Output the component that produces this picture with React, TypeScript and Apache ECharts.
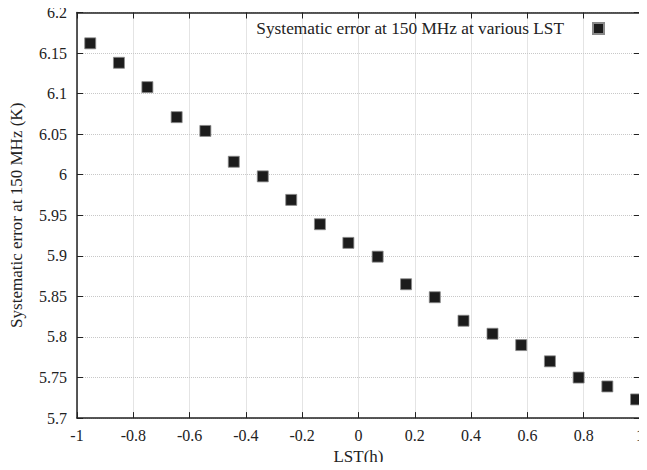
import React, { useEffect, useRef } from "react";
import * as echarts from "echarts";

const lstHours = [
  -0.953, -0.851, -0.75, -0.646, -0.544, -0.443, -0.34, -0.239, -0.137, -0.036,
  0.068, 0.169, 0.271, 0.373, 0.476, 0.578, 0.68, 0.782, 0.884, 0.986,
];
const errorK = [
  6.162, 6.138, 6.108, 6.071, 6.054, 6.016, 5.998, 5.969, 5.939, 5.916,
  5.899, 5.865, 5.849, 5.82, 5.804, 5.79, 5.77, 5.75, 5.739, 5.723,
];
const seriesName = "Systematic error at 150 MHz at various LST";

const FONT = "Liberation Serif";

export default function App() {
  const ref = useRef<HTMLDivElement>(null);
  useEffect(() => {
    if (!ref.current) return;
    const chart = echarts.init(ref.current, undefined, { renderer: "svg" });
    const axisLine = { show: true, onZero: false, lineStyle: { color: "#222", width: 1.5 } };
    const tick = { show: true, inside: true, length: 6, lineStyle: { color: "#222", width: 1 } };
    const split = { show: true, lineStyle: { color: "#c8c8c8", type: "dotted", width: 1 } };
    const label = { color: "#222", fontFamily: FONT, fontSize: 16 };
    chart.setOption({
      animation: false,
      backgroundColor: "#fff",
      textStyle: { fontFamily: FONT },
      grid: { left: 76, top: 12.5, right: 4.3, bottom: 48.3, containLabel: false },
      legend: {
        show: true,
        right: 37,
        top: 15,
        align: "right",
        itemWidth: 11,
        itemHeight: 11,
        textStyle: { color: "#222", fontFamily: FONT, fontSize: 17.3, padding: [0, 24, 0, 0] },
        data: [{ name: seriesName, icon: "rect" }],
      },
      xAxis: [
        {
          type: "value",
          min: -1,
          max: 1,
          interval: 0.2,
          name: "LST(h)",
          nameLocation: "middle",
          nameGap: 26,
          nameTextStyle: { color: "#222", fontFamily: FONT, fontSize: 17 },
          axisLine,
          axisTick: tick,
          axisLabel: { ...label, margin: 9, formatter: (v: number) => String(+v.toFixed(1)) },
          splitLine: split,
        },
        {
          type: "value",
          position: "top",
          min: -1,
          max: 1,
          interval: 0.2,
          axisLine,
          axisTick: tick,
          axisLabel: { show: false },
          splitLine: { show: false },
        },
      ],
      yAxis: [
        {
          type: "value",
          min: 5.7,
          max: 6.2,
          interval: 0.05,
          name: "Systematic error at 150 MHz (K)",
          nameLocation: "middle",
          nameGap: 52,
          nameTextStyle: { color: "#222", fontFamily: FONT, fontSize: 17 },
          axisLine,
          axisTick: tick,
          axisLabel: { ...label, margin: 10, formatter: (v: number) => String(+v.toFixed(2)) },
          splitLine: split,
        },
        {
          type: "value",
          position: "right",
          min: 5.7,
          max: 6.2,
          interval: 0.05,
          axisLine,
          axisTick: tick,
          axisLabel: { show: false },
          splitLine: { show: false },
        },
      ],
      series: [
        {
          name: seriesName,
          type: "scatter",
          symbol: "rect",
          symbolSize: 11,
          itemStyle: { color: "#1c1c1c", borderColor: "#8a8a8a", borderWidth: 0.8, opacity: 1 },
          data: lstHours.map((x, i) => [x, errorK[i]]),
        },
      ],
    });
    return () => chart.dispose();
  }, []);
  return <div ref={ref} style={{ width: 647, height: 470, margin: -8 }} />;
}
